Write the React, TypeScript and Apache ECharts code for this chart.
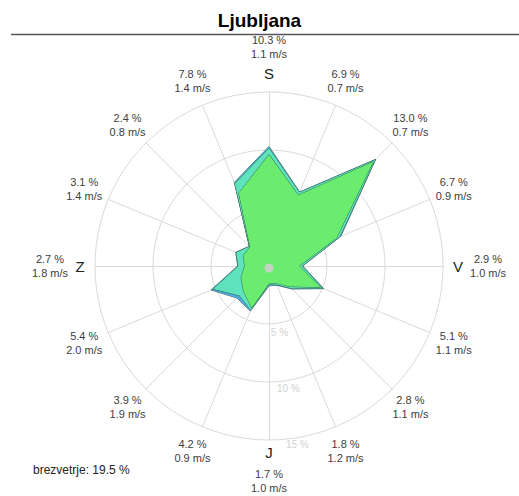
import React, { useEffect, useRef } from 'react';
import * as echarts from 'echarts';

// Compass directions, clockwise from north
const directions = ['N', 'NNE', 'NE', 'ENE', 'E', 'ESE', 'SE', 'SSE', 'S', 'SSW', 'SW', 'WSW', 'W', 'WNW', 'NW', 'NNW'];
const cardinalLetters = ['S', '', '', '', 'V', '', '', '', 'J', '', '', '', 'Z', '', '', ''];
// Frequency of each direction (%), total of all speed classes
const frequency = [10.3, 6.9, 13.0, 6.7, 2.9, 5.1, 2.8, 1.8, 1.7, 4.2, 3.9, 5.4, 2.7, 3.1, 2.4, 7.8];
// Mean wind speed per direction (m/s)
const meanSpeed = [1.1, 0.7, 0.7, 0.9, 1.0, 1.1, 1.1, 1.2, 1.0, 0.9, 1.9, 2.0, 1.8, 1.4, 0.8, 1.4];
// Cumulative share of the lower speed classes (%)
const layerInner = [9.6, 6.6, 12.7, 6.3, 2.6, 4.8, 2.5, 1.6, 1.5, 3.9, 3.1, 2.6, 2.1, 2.4, 2.3, 6.8];
const layerMiddle = [10.15, 6.85, 12.95, 6.6, 2.85, 5.0, 2.7, 1.75, 1.6, 4.1, 3.6, 5.2, 2.65, 3.05, 2.38, 7.7];
const ringValues = [5, 10, 15];
const calmShare = 19.5;

const MAX = 15;
const CX = 269;
const CY = 266;
const R = 174;
const FONT = '"Liberation Sans", Arial, sans-serif';

// radar draws indicators counter-clockwise; reorder to get clockwise compass
const ccwIndex = directions.map((_, k) => (directions.length - k) % directions.length);
const reorder = (arr: number[]) => ccwIndex.map((i) => arr[i]);

export default function App() {
  const ref = useRef<HTMLDivElement>(null);
  useEffect(() => {
    if (!ref.current) return;
    const chart = echarts.init(ref.current, undefined, { renderer: 'svg' });

    const graphics: any[] = [];
    graphics.push({
      type: 'line',
      shape: { x1: 11, y1: 34.5, x2: 519, y2: 34.5 },
      style: { stroke: '#555', lineWidth: 1.5 },
    });
    const step = (2 * Math.PI) / directions.length;
    directions.forEach((_, i) => {
      const a = i * step;
      const dx = Math.sin(a);
      const dy = -Math.cos(a);
      const text = `${frequency[i].toFixed(1)} %\n${meanSpeed[i].toFixed(1)} m/s`;
      if (cardinalLetters[i]) {
        const dl = i === 8 ? 186 : i === 0 ? 193 : 189;
        graphics.push({
          type: 'text',
          x: CX + dl * dx,
          y: CY + dl * dy,
          style: { text: cardinalLetters[i], font: `15px ${FONT}`, fill: '#222', align: 'center', verticalAlign: 'middle' },
        });
        const db = i === 8 ? 215 : 219;
        graphics.push({
          type: 'text',
          x: CX + db * dx,
          y: CY + db * dy,
          style: { text, font: `11px ${FONT}`, fill: '#404040', align: 'center', verticalAlign: 'middle', lineHeight: 14 },
        });
      } else {
        const d = 200;
        graphics.push({
          type: 'text',
          x: CX + d * dx,
          y: CY + d * dy,
          style: { text, font: `11px ${FONT}`, fill: '#404040', align: 'center', verticalAlign: 'middle', lineHeight: 14 },
        });
      }
    });
    const ringAngle = (171 * Math.PI) / 180;
    ringValues.forEach((v, k) => {
      const d = (v / MAX) * R + [9, 8, 7][k];
      graphics.push({
        type: 'text',
        x: CX + d * Math.sin(ringAngle),
        y: CY - d * Math.cos(ringAngle),
        style: { text: `${v} %`, font: `10px ${FONT}`, fill: '#d2d2d2', align: 'center', verticalAlign: 'middle' },
      });
    });
    graphics.push({
      type: 'circle',
      shape: { cx: CX, cy: CY + 2, r: 4.5 },
      style: { fill: '#c4d4c4' },
      z: 100,
    });
    graphics.push({
      type: 'text',
      x: 33,
      y: 470,
      style: { text: `brezvetrje: ${calmShare.toFixed(1)} %`, font: `12px ${FONT}`, fill: '#222', align: 'left', verticalAlign: 'middle' },
    });

    const mkSeries = (values: number[], color: string, z: number) => ({
      type: 'radar',
      z,
      symbol: 'none',
      data: [{ value: reorder(values) }],
      lineStyle: { color: '#2f5a44', width: 0.9 },
      areaStyle: { color, opacity: 1 },
    });

    chart.setOption({
      animation: false,
      backgroundColor: '#fff',
      title: {
        text: 'Ljubljana',
        left: 'center',
        top: 6,
        textStyle: { fontSize: 19, fontWeight: 'bold', fontFamily: FONT, color: '#000' },
      },
      radar: {
        center: [CX, CY],
        radius: R,
        startAngle: 90,
        shape: 'circle',
        splitNumber: ringValues.length,
        indicator: reorder(frequency).map(() => ({ name: '', min: 0, max: MAX })),
        axisName: { show: false },
        axisLine: { lineStyle: { color: '#dadada', width: 1 } },
        splitLine: { lineStyle: { color: '#dadada', width: 1 } },
        splitArea: { show: false },
        axisTick: { show: false },
        axisLabel: { show: false },
      },
      series: [
        mkSeries(frequency, '#4fa9dc', 2),
        mkSeries(layerMiddle, '#5fe3bd', 3),
        mkSeries(layerInner, '#6aec6e', 4),
      ],
      graphic: graphics,
    });
    return () => chart.dispose();
  }, []);
  return <div ref={ref} style={{ position: 'fixed', left: 0, top: 0, width: 519, height: 496 }} />;
}
